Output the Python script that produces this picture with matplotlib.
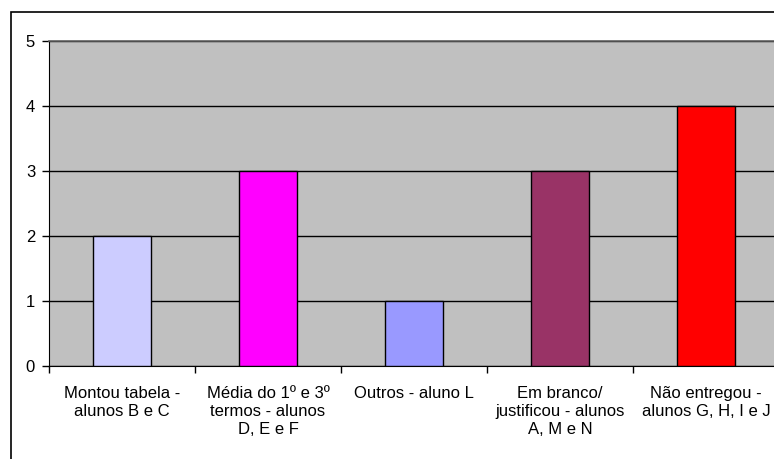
import matplotlib
matplotlib.use("Agg")
import matplotlib.pyplot as plt
from matplotlib.patches import Rectangle
import numpy as np

categories = [
    "Montou tabela -\nalunos B e C",
    "Média do 1º e 3º\ntermos - alunos\nD, E e F",
    "Outros - aluno L",
    "Em branco/\njustificou - alunos\nA, M e N",
    "Não entregou -\nalunos G, H, I e J",
]
values = [2, 3, 1, 3, 4]
colors = ["#CCCCFF", "#FF00FF", "#9999FF", "#993366", "#FF0000"]
y_ticks = [0, 1, 2, 3, 4, 5]

plt.rcParams["font.family"] = ["Liberation Sans", "DejaVu Sans"]

fig = plt.figure(figsize=(7.74, 4.59), dpi=100)
fig.patch.set_facecolor("white")

# outer chart frame
fig.patches.append(Rectangle((11 / 774, -0.2), 1.2, 0.2 + (1 - 12 / 459),
                             transform=fig.transFigure, fill=False,
                             edgecolor="black", linewidth=1.2, clip_on=False))

ax = fig.add_axes([49 / 774, 1 - 366 / 459, 730 / 774, 325 / 459])
ax.set_facecolor("#C0C0C0")

x = np.arange(len(categories))
ax.set_axisbelow(True)
ax.yaxis.grid(True, color="black", linewidth=1.0)
ax.bar(x, values, width=0.4, color=colors, edgecolor="black", linewidth=1.0, zorder=3)

ax.set_xlim(-0.5, len(categories) - 0.5)
ax.set_ylim(0, 5)
ax.set_yticks(y_ticks)
ax.set_yticklabels([str(t) for t in y_ticks], fontsize=12)

ax.set_xticks(x)
ax.set_xticklabels(categories, fontsize=12, linespacing=1.25, ha="center", va="top")
ax.tick_params(axis="x", which="major", length=0, pad=14.5)
ax.set_xticks(np.arange(len(categories) + 1) - 0.5, minor=True)
ax.tick_params(axis="x", which="minor", length=5, width=1, color="black")
ax.tick_params(axis="y", length=5, width=1, pad=5, color="black")

ax.spines["right"].set_visible(False)
ax.spines["top"].set_color("#606060")
ax.spines["top"].set_linewidth(1.2)
ax.spines["left"].set_color("black")
ax.spines["bottom"].set_color("black")

fig.savefig("out.png", dpi=100, facecolor="white")
